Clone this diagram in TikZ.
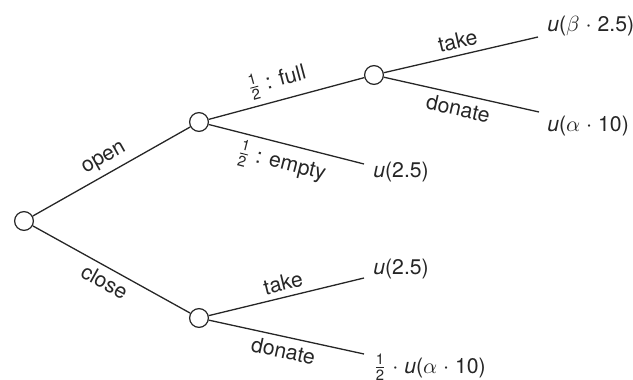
\documentclass[tikz,border=0pt]{standalone}
\usepackage{amsmath}
\usepackage{fontspec}
\setmainfont{TeX Gyre Heros}
\begin{document}
\begin{tikzpicture}[x=0.5pt,y=-0.5pt,
  every node/.style={font=\fontsize{10.6}{12}\selectfont, text=black!85},
  dnode/.style={circle, draw=black!85, fill=white, inner sep=0pt, minimum size=9.4pt, line width=0.6pt},
  edge/.style={line width=0.65pt, draw=black!85},
  lab/.style={sloped, pos=0.5, inner sep=2.8pt},
  leaf/.style={anchor=base west, inner sep=0pt}]
\path[use as bounding box] (0,0) rectangle (633,380);
\node[dnode] (r) at (24,221) {};
\node[dnode] (o) at (199,122) {};
\node[dnode] (c) at (199,318) {};
\node[dnode] (f) at (374,75) {};
\coordinate (ft) at (538,37);
\coordinate (fd) at (539,112);
\coordinate (oe) at (364,164);
\coordinate (ct) at (364,278);
\coordinate (cd) at (364,354);
\node[leaf] (lft) at (547,31.5) {\textit{u}($\beta$\;$\cdot$\;2.5)};
\node[leaf] (lfd) at (547,131.5) {\textit{u}($\alpha$\;$\cdot$\;10)};
\node[leaf] (loe) at (373,177) {\textit{u}(2.5)};
\node[leaf] (lct) at (373,274) {\textit{u}(2.5)};
\node[leaf] (lcd) at (373,373) {$\frac{\text{1}}{\text{2}}$\;$\cdot$\;\textit{u}($\alpha$\;$\cdot$\;10)};
\draw[edge] (r) -- node[lab, above] {open} (o);
\draw[edge] (r) -- node[lab, below] {close} (c);
\draw[edge] (o) -- node[lab, above, pos=0.47] {$\frac{\text{1}}{\text{2}}$ : full} (f);
\draw[edge] (o) -- node[lab, below] {$\frac{\text{1}}{\text{2}}$ : empty} (oe);
\draw[edge] (f) -- node[lab, above] {take} (ft);
\draw[edge] (f) -- node[lab, below] {donate} (fd);
\draw[edge] (c) -- node[lab, above] {take} (ct);
\draw[edge] (c) -- node[lab, below] {donate} (cd);
\end{tikzpicture}
\end{document}
